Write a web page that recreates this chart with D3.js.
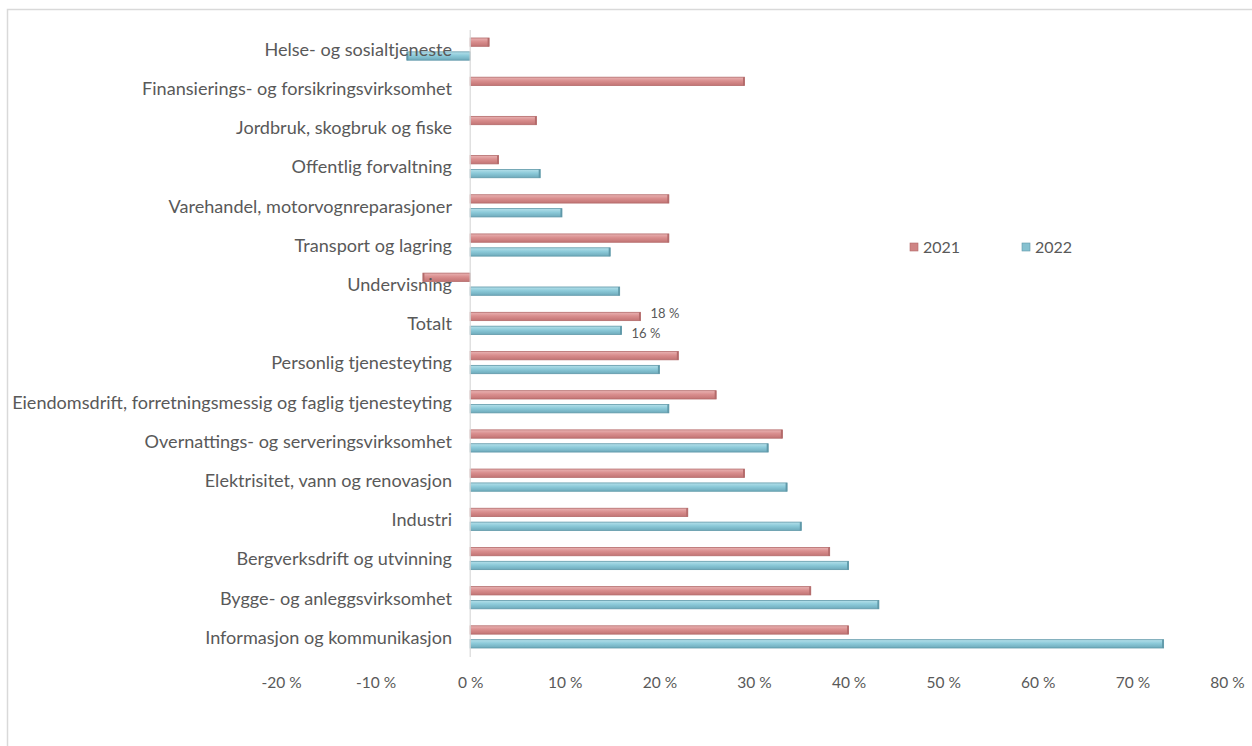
<!DOCTYPE html>
<html>
<head>
<meta charset="utf-8">
<script src="https://cdn.jsdelivr.net/npm/d3@7"></script>
<style>
  html, body { margin: 0; padding: 0; background: #fff; }
  svg { display: block; }
  text { font-family: Lato, "Open Sans", sans-serif; fill: #595959; }
</style>
</head>
<body>
<svg id="chart" width="1252" height="746"></svg>
<script>
const categories = [
  "Helse- og sosialtjeneste",
  "Finansierings- og forsikringsvirksomhet",
  "Jordbruk, skogbruk og fiske",
  "Offentlig forvaltning",
  "Varehandel, motorvognreparasjoner",
  "Transport og lagring",
  "Undervisning",
  "Totalt",
  "Personlig tjenesteyting",
  "Eiendomsdrift, forretningsmessig og faglig tjenesteyting",
  "Overnattings- og serveringsvirksomhet",
  "Elektrisitet, vann og renovasjon",
  "Industri",
  "Bergverksdrift og utvinning",
  "Bygge- og anleggsvirksomhet",
  "Informasjon og kommunikasjon"
];
const series = ["2021", "2022"];
const values2021 = [2, 29, 7, 3, 21, 21, -5, 18, 22, 26, 33, 29, 23, 38, 36, 40];
const values2022 = [-6.7, null, null, 7.4, 9.7, 14.8, 15.8, 16, 20, 21, 31.5, 33.5, 35, 40, 43.2, 73.3];
const tickValues = [-20, -10, 0, 10, 20, 30, 40, 50, 60, 70, 80];
const tickLabels = ["-20 %", "-10 %", "0 %", "10 %", "20 %", "30 %", "40 %", "50 %", "60 %", "70 %", "80 %"];
const dataLabelCategory = "Totalt";

const svg = d3.select("#chart");

// outer frame
svg.append("path")
  .attr("d", "M7.5,746 L7.5,9.5 L1252,9.5")
  .attr("fill", "none").attr("stroke", "#d9d9d9").attr("stroke-width", 1.5);

const x = d3.scaleLinear().domain([-20, 80]).range([281, 1227]);
const y = d3.scaleBand().domain(categories).range([30, 657]).paddingInner(0).paddingOuter(0);
const yInner = d3.scaleBand().domain(series).range([8, y.bandwidth() - 9]).paddingInner(0.4);

const defs = svg.append("defs");
function grad(id, top, mid, bot) {
  const g = defs.append("linearGradient").attr("id", id).attr("x1", 0).attr("y1", 0).attr("x2", 0).attr("y2", 1);
  g.append("stop").attr("offset", "0%").attr("stop-color", top);
  g.append("stop").attr("offset", "45%").attr("stop-color", mid);
  g.append("stop").attr("offset", "100%").attr("stop-color", bot);
}
grad("gRed", "#e9b3b3", "#d98e8e", "#c27474");
grad("gBlue", "#b5e0ea", "#8ccad9", "#6eaabb");
const fills = { "2021": "url(#gRed)", "2022": "url(#gBlue)" };
const strokes = { "2021": "#b36a6a", "2022": "#5f98a8" };
const swatch = { "2021": "#cf8585", "2022": "#86c1d0" };

const rows = [];
categories.forEach((c, i) => {
  rows.push({ cat: c, s: "2021", v: values2021[i] });
  rows.push({ cat: c, s: "2022", v: values2022[i] });
});

// bars
const bars = svg.append("g");
rows.filter(d => d.v !== null).forEach(d => {
  const x0 = x(Math.min(0, d.v)), x1 = x(Math.max(0, d.v));
  const yy = y(d.cat) + yInner(d.s);
  const h = yInner.bandwidth();
  bars.append("rect")
    .attr("x", x0).attr("y", yy).attr("width", x1 - x0).attr("height", h)
    .attr("fill", fills[d.s]).attr("stroke", strokes[d.s]).attr("stroke-width", 0.8);
  // end cap
  const capX = d.v >= 0 ? x1 - 1.5 : x0;
  bars.append("rect")
    .attr("x", capX).attr("y", yy).attr("width", 1.5).attr("height", h)
    .attr("fill", strokes[d.s]);
});

// zero line
svg.append("line")
  .attr("x1", x(0)).attr("x2", x(0)).attr("y1", 30).attr("y2", 657)
  .attr("stroke", "#d9d9d9").attr("stroke-width", 1.2);

// category labels
const labG = svg.append("g");
const labels = labG.selectAll("text").data(categories).join("text")
  .attr("x", 452)
  .attr("y", d => y(d) + y.bandwidth() / 2)
  .attr("dy", "0.35em")
  .attr("text-anchor", "end")
  .attr("font-size", 16)
  .text(d => d);
// fit longest label to reference width
let maxW = 0;
labels.each(function() { maxW = Math.max(maxW, this.getComputedTextLength()); });
const fs = 16 * 440 / maxW;
labels.attr("font-size", fs);

// x axis (ticks only, no line)
const axis = d3.axisBottom(x).tickValues(tickValues)
  .tickFormat((d, i) => tickLabels[i]).tickSize(0).tickPadding(0);
const ax = svg.append("g").attr("transform", "translate(0,677)").call(axis);
ax.select(".domain").remove();
ax.selectAll("text").attr("font-size", 15.5).attr("dy", "0.71em")
  .style("font-family", "Lato, sans-serif").attr("fill", "#595959");

// data labels for Totalt
const iT = categories.indexOf(dataLabelCategory);
[["2021", values2021[iT]], ["2022", values2022[iT]]].forEach(([s, v], k) => {
  svg.append("text")
    .attr("x", x(v) + 10)
    .attr("y", y(dataLabelCategory) + yInner(s) + yInner.bandwidth() / 2 + (k === 0 ? -3 : 3))
    .attr("dy", "0.35em")
    .attr("font-size", 13)
    .attr("fill", "#404040")
    .text(Math.round(v) + " %");
});

// legend
const leg = svg.append("g").attr("transform", "translate(910,247)");
series.forEach((s, i) => {
  const g = leg.append("g").attr("transform", `translate(${i * 112},0)`);
  g.append("rect").attr("x", 0).attr("y", -4).attr("width", 8).attr("height", 8)
    .attr("fill", swatch[s]).attr("stroke", strokes[s]).attr("stroke-width", 0.6);
  g.append("text").attr("x", 13).attr("y", 0).attr("dy", "0.35em")
    .attr("font-size", 16).text(s);
});
</script>
</body>
</html>
